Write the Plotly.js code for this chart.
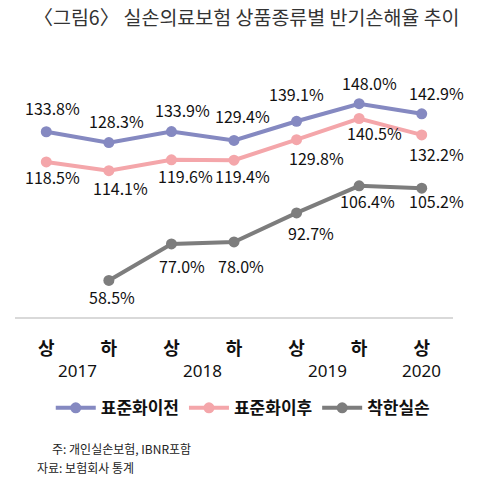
<!DOCTYPE html>
<html>
<head>
<meta charset="utf-8">
<script src="https://cdn.plot.ly/plotly-3.0.1.min.js"></script>
<style>
html,body{margin:0;padding:0;background:#fff;}
#chart{width:493px;height:479px;}
</style>
</head>
<body>
<div id="chart"></div>
<script>
// ---- data ----
const halves = ['상','하','상','하','상','하','상'];
const years = ['2017','2018','2019','2020'];
const yearPos = [0.5, 2.5, 4.5, 6];
const seriesNames = ['표준화이전','표준화이후','착한실손'];
const beforeStd = [133.8, 128.3, 133.9, 129.4, 139.1, 148.0, 142.9];
const afterStd  = [118.5, 114.1, 119.6, 119.4, 129.8, 140.5, 132.2];
const goodSilson = [null, 58.5, 77.0, 78.0, 92.7, 106.4, 105.2];

// ---- styling ----
const colors = ['#8589C1', '#F4A6AA', '#7D7D7D'];
const FONT = '"Noto Sans CJK KR", "Noto Sans", sans-serif';
const NUMFONT = '"Noto Sans", "Noto Sans CJK KR", sans-serif';
// label offsets in pixels (x, y) per series per point
const labelOffsets = [
  [[6,24],[8,22],[11,22],[8,24],[0,27],[10,21],[15,21]],
  [[6,-15],[12,-17],[14,-16],[8,-16],[20,-18],[15,-14],[15,-19]],
  [[0,0],[3,-17],[11,-22],[7,-24],[14,-20],[8,-15],[15,-13]]
];

const xs = halves.map((_, i) => i);
const allSeries = [beforeStd, afterStd, goodSilson];

const traces = allSeries.map((vals, s) => ({
  type: 'scatter',
  mode: 'lines+markers',
  x: xs,
  y: vals,
  name: seriesNames[s],
  line: {color: colors[s], width: 4},
  marker: {color: colors[s], size: 11},
  connectgaps: false,
  hoverinfo: 'skip'
}));

const annotations = [];
allSeries.forEach((vals, s) => {
  vals.forEach((v, i) => {
    if (v === null) return;
    annotations.push({
      x: i, y: v, xref: 'x', yref: 'y',
      text: v.toFixed(1) + '%',
      showarrow: false,
      xshift: labelOffsets[s][i][0],
      yshift: labelOffsets[s][i][1],
      font: {family: FONT, size: 16, color: '#111'}
    });
  });
});
years.forEach((yr, k) => {
  annotations.push({
    x: yearPos[k], y: 0, xref: 'x', yref: 'paper',
    yanchor: 'middle', yshift: -53,
    text: yr, showarrow: false,
    font: {family: NUMFONT, size: 17, color: '#111'}
  });
});
annotations.push({
  x: 0.08, y: 0, xref: 'paper', yref: 'paper', xanchor: 'left', yanchor: 'middle',
  yshift: -131, text: '주: 개인실손보험, IBNR포함', showarrow: false,
  font: {family: FONT, size: 12, color: '#222'}
});
annotations.push({
  x: 0.045, y: 0, xref: 'paper', yref: 'paper', xanchor: 'left', yanchor: 'middle',
  yshift: -150, text: '자료: 보험회사 통계', showarrow: false,
  font: {family: FONT, size: 12, color: '#222'}
});

const layout = {
  width: 493, height: 479,
  margin: {l: 15, r: 40, t: 80, b: 162},
  paper_bgcolor: '#fff', plot_bgcolor: '#fff',
  title: {
    text: '〈그림6〉 실손의료보험 상품종류별 반기손해율 추이',
    x: 0.5, xanchor: 'center', y: 0.962, yanchor: 'middle',
    font: {family: FONT, size: 19.5, color: '#333'}
  },
  showlegend: true,
  legend: {
    orientation: 'h', x: 0.52, xanchor: 'center', y: -0.385, yanchor: 'middle',
    font: {family: FONT, size: 17, color: '#111', weight: 'bold'},
    itemwidth: 40, traceorder: 'normal'
  },
  xaxis: {
    range: [-0.5, 6.5],
    tickvals: xs, ticktext: halves,
    tickfont: {family: FONT, size: 18, color: '#111', weight: 'bold'},
    showgrid: false, zeroline: false,
    showline: true, linecolor: '#D9D9D9', linewidth: 2,
    ticks: '', ticklabelstandoff: 14,
    fixedrange: true
  },
  yaxis: {
    range: [40, 160],
    visible: false, showgrid: false, zeroline: false,
    fixedrange: true
  },
  annotations: annotations
};

Plotly.newPlot('chart', traces, layout, {displayModeBar: false, staticPlot: true});
</script>
</body>
</html>
